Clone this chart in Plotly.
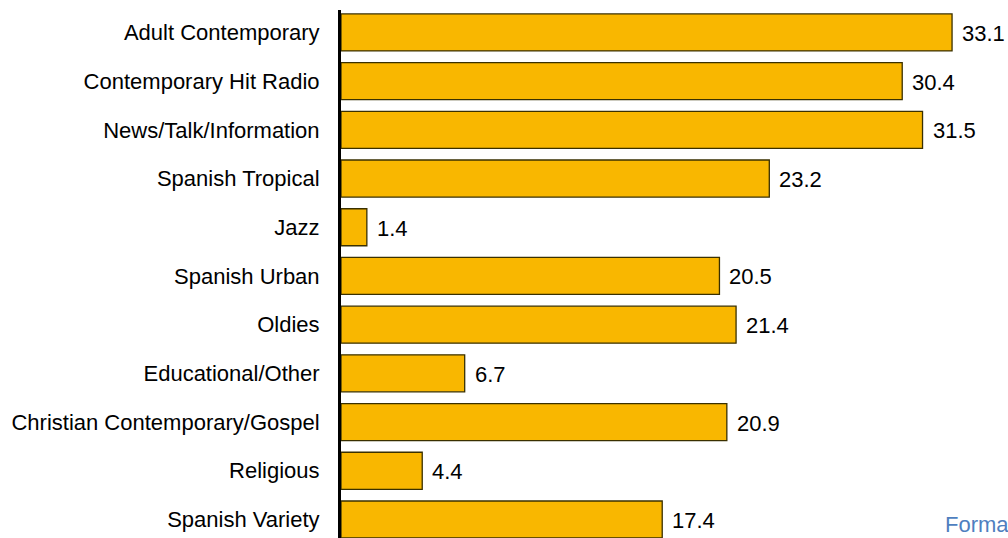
import plotly.graph_objects as go

categories = [
    "Adult Contemporary",
    "Contemporary Hit Radio",
    "News/Talk/Information",
    "Spanish Tropical",
    "Jazz",
    "Spanish Urban",
    "Oldies",
    "Educational/Other",
    "Christian Contemporary/Gospel",
    "Religious",
    "Spanish Variety",
]
values = [33.1, 30.4, 31.5, 23.2, 1.4, 20.5, 21.4, 6.7, 20.9, 4.4, 17.4]
value_labels = [f"{v:.1f}" for v in values]

FONT = "Liberation Sans, Arial, sans-serif"
FS = 22

fig = go.Figure()
fig.add_trace(go.Bar(
    y=categories,
    x=values,
    orientation="h",
    width=0.76,
    marker=dict(color="#F9B700", line=dict(color="#3A3000", width=1.3)),
    hoverinfo="x+y",
))

for cat, v, lab in zip(categories, values, value_labels):
    fig.add_annotation(
        x=v, y=cat, text=lab, showarrow=False,
        xanchor="left", xshift=8, yshift=-1,
        font=dict(family=FONT, size=FS, color="#000000"),
    )

fig.add_annotation(
    xref="paper", yref="paper", x=(943 - 341) / 667, y=1 - (524 - 10) / 528,
    xanchor="left", yanchor="middle", text="Format", showarrow=False,
    font=dict(family=FONT, size=FS, color="#4F7FBF"),
)

fig.update_layout(
    width=1008, height=538,
    margin=dict(l=341, r=0, t=10, b=0, autoexpand=False),
    plot_bgcolor="white", paper_bgcolor="white",
    showlegend=False,
    font=dict(family=FONT, size=FS, color="#000000"),
    xaxis=dict(range=[0, 36.13], showgrid=False, showticklabels=False,
               zeroline=False, showline=False, fixedrange=True, automargin=False),
    yaxis=dict(range=[10.38, -0.46], showgrid=False, showline=True,
               linecolor="black", linewidth=3, ticks="", ticklabelstandoff=14,
               tickfont=dict(family=FONT, size=FS, color="#000000"),
               fixedrange=True, automargin=False),
)

fig.write_html(
    "out.html",
    config={"displayModeBar": False},
    post_script="document.body.style.margin='0';document.body.style.overflow='hidden';",
)
